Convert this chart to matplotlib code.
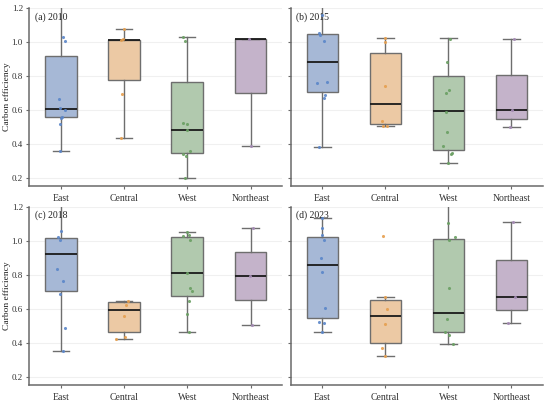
import matplotlib
matplotlib.use("Agg")
import matplotlib.pyplot as plt

plt.rcParams['font.family'] = ['Liberation Serif', 'DejaVu Serif']

# categories and panels
regions = ["East", "Central", "West", "Northeast"]
panel_titles = ["(a) 2010", "(b) 2015", "(c) 2018", "(d) 2023"]

# box statistics, one row per panel, one value per region
box_q1 = [[0.561, 0.775, 0.349, 0.702],
          [0.704, 0.518, 0.365, 0.549],
          [0.706, 0.465, 0.673, 0.649],
          [0.543, 0.402, 0.461, 0.592]]
box_med = [[0.604, 1.012, 0.482, 1.018],
           [0.884, 0.637, 0.592, 0.598],
           [0.922, 0.590, 0.812, 0.790],
           [0.857, 0.555, 0.578, 0.667]]
box_q3 = [[0.918, 1.012, 0.765, 1.018],
          [1.049, 0.933, 0.798, 0.804],
          [1.018, 0.641, 1.024, 0.931],
          [1.022, 0.653, 1.012, 0.886]]
whisk_lo = [[0.361, 0.433, 0.202, 0.386],
            [0.382, 0.504, 0.288, 0.502],
            [0.351, 0.420, 0.465, 0.502],
            [0.465, 0.324, 0.394, 0.514]]
whisk_hi = [[1.30, 1.076, 1.031, 1.018],
            [1.25, 1.024, 1.024, 1.016],
            [1.25, 0.647, 1.049, 1.076],
            [1.133, 0.671, 1.25, 1.108]]

# individual observations (jittered points)
pts_2010 = [[1.028, 1.006, 0.665, 0.610, 0.600, 0.560, 0.555, 0.516, 0.361],
            [1.076, 1.012, 1.015, 0.696, 0.433],
            [1.030, 1.006, 0.525, 0.520, 0.482, 0.361, 0.341, 0.330, 0.202],
            [1.020, 0.386]]
pts_2015 = [[1.161, 1.051, 1.039, 1.006, 0.757, 0.765, 0.686, 0.669, 0.382],
            [1.024, 1.000, 0.739, 0.533, 0.505, 0.505],
            [1.018, 0.884, 0.718, 0.702, 0.590, 0.471, 0.388, 0.345, 0.341, 0.288],
            [1.016, 0.598, 0.502]]
pts_2018 = [[1.055, 1.024, 1.004, 0.833, 0.765, 0.684, 0.486, 0.351],
            [0.647, 0.625, 0.555, 0.435, 0.420],
            [1.049, 1.035, 1.027, 1.004, 0.812, 0.720, 0.706, 0.647, 0.571, 0.465],
            [1.076, 0.790, 0.502]]
pts_2023 = [[1.133, 1.075, 1.031, 1.004, 0.898, 0.818, 0.606, 0.520, 0.518, 0.465],
            [1.029, 0.671, 0.598, 0.510, 0.367, 0.324],
            [1.104, 1.024, 1.002, 0.722, 0.539, 0.461, 0.447, 0.394],
            [1.108, 0.667, 0.514]]

# horizontal jitter (category units)
jit_2010 = [[0.03, 0.07, -0.03, -0.01, 0.06, 0.02, 0.005, -0.02, -0.01],
            [0.0, -0.05, -0.02, -0.03, -0.04],
            [-0.06, -0.04, -0.06, 0.0, 0.0, 0.05, -0.06, -0.02, -0.03],
            [-0.03, 0.01]]
jit_2015 = [[0.0, -0.05, -0.04, 0.02, -0.09, 0.08, 0.04, 0.02, -0.05],
            [0.0, 0.0, 0.0, -0.06, -0.04, 0.03],
            [0.03, -0.02, 0.01, -0.04, -0.03, -0.02, -0.08, 0.05, 0.04, 0.0],
            [0.04, 0.01, -0.02]]
jit_2018 = [[0.01, -0.05, -0.02, -0.06, 0.04, -0.01, 0.06, 0.04],
            [0.06, 0.03, 0.0, 0.01, -0.12],
            [0.0, 0.03, -0.06, 0.04, -0.01, 0.05, 0.08, 0.02, 0.0, 0.02],
            [0.04, -0.01, 0.02]]
jit_2023 = [[0.0, 0.0, -0.01, 0.02, -0.03, -0.01, 0.04, -0.06, 0.02, -0.01],
            [-0.04, -0.01, 0.02, -0.01, -0.06, 0.0],
            [0.0, 0.11, 0.01, 0.01, -0.02, -0.06, 0.01, 0.08],
            [0.03, 0.05, -0.05]]

points = [pts_2010, pts_2015, pts_2018, pts_2023]
jitter = [jit_2010, jit_2015, jit_2018, jit_2023]

fill_colors = ['#a6b8d6', '#ecc9a4', '#b1c9ae', '#c4b3ca']
point_colors = ['#5b86c9', '#e69f4f', '#6a9f63', '#a48ab4']
edge_color = '#6e6e6e'
spine_color = '#6a6a6a'

fig = plt.figure(figsize=(5.5, 4.01), dpi=100)
axes_pos = [[0.053, 0.536, 0.460, 0.444],
            [0.529, 0.536, 0.458, 0.444],
            [0.053, 0.040, 0.460, 0.445],
            [0.529, 0.040, 0.458, 0.445]]

for k in range(4):
    ax = fig.add_axes(axes_pos[k])
    for i in range(len(regions)):
        stats = [{
            'med': box_med[k][i], 'q1': box_q1[k][i], 'q3': box_q3[k][i],
            'whislo': whisk_lo[k][i], 'whishi': whisk_hi[k][i], 'fliers': [],
        }]
        ax.bxp(stats, positions=[i], widths=0.5, capwidths=0.26,
               patch_artist=True, showfliers=False,
               boxprops=dict(facecolor=fill_colors[i], edgecolor=edge_color, linewidth=1.0),
               medianprops=dict(color='#1a1a1a', linewidth=1.3),
               whiskerprops=dict(color=edge_color, linewidth=1.0),
               capprops=dict(color=edge_color, linewidth=1.0))
        xs = [i + j for j in jitter[k][i]]
        ax.scatter(xs, points[k][i], s=5, color=point_colors[i], alpha=0.9,
                   linewidths=0, zorder=4)

    ax.set_xlim(-0.5, 3.5)
    ax.set_ylim(0.153, 1.2)
    ax.set_yticks([0.2, 0.4, 0.6, 0.8, 1.0, 1.2])
    ax.set_xticks(range(4))
    ax.set_xticklabels(regions)
    ax.yaxis.grid(True, color='#f0f0f0', linewidth=0.8)
    ax.set_axisbelow(True)
    for side in ['top', 'right']:
        ax.spines[side].set_visible(False)
    for side in ['left', 'bottom']:
        ax.spines[side].set_color(spine_color)
        ax.spines[side].set_linewidth(1.1)
    ax.tick_params(axis='both', colors=spine_color, labelcolor='#333333',
                   labelsize=6.5, length=2.5, width=0.8, pad=2)
    ax.tick_params(axis='x', labelsize=7, pad=3)
    if k % 2 == 0:
        ax.set_ylabel('Carbon efficiency', fontsize=6.8, color='#222222')
        ax.yaxis.set_label_coords(-0.073, 0.5)
    else:
        ax.set_yticklabels([])
    ax.text(0.022, 0.95, panel_titles[k], transform=ax.transAxes, fontsize=7,
            color='#222222', va='center', ha='left')

fig.savefig('out.png', dpi=100)
